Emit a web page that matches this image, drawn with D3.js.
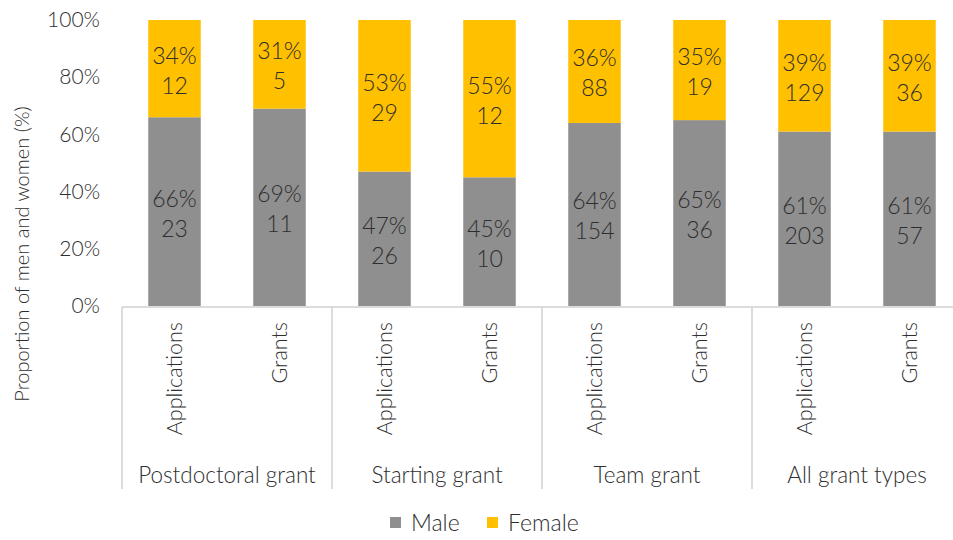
<!DOCTYPE html>
<html><head><meta charset="utf-8">
<script src="https://cdn.jsdelivr.net/npm/d3@7/dist/d3.min.js"></script>
<style>body{margin:0;background:#fff;} text{font-family:Lato,"Open Sans",sans-serif;font-weight:300;}</style>
</head><body><svg id="c" width="953" height="540"></svg>
<script>
const groups = ["Postdoctoral grant","Starting grant","Team grant","All grant types"];
const subCats = ["Applications","Grants"];
const malePct = [66,69,47,45,64,65,61,61];
const femalePct = [34,31,53,55,36,35,39,39];
const maleN = [23,11,26,10,154,36,203,57];
const femaleN = [12,5,29,12,88,19,129,36];
const yTicks = [0,20,40,60,80,100];
const seriesNames = ["Male","Female"];
const colors = {Male:"#8f8f8f", Female:"#ffc000"};

(function(){
const svg = d3.select("#c");
const pLeft = 122, pRight = 962, pTop = 20, pBottom = 306;
const bars = [];
groups.forEach((g,gi)=>subCats.forEach((s,si)=>{
  const i = gi*2+si;
  bars.push({key:g+"|"+s, group:g, sub:s, m:malePct[i], f:femalePct[i], mn:maleN[i], fn:femaleN[i]});
}));
const x = d3.scaleBand().domain(bars.map(d=>d.key)).range([pLeft,pRight]).paddingInner(0.5).paddingOuter(0.25);
const y = d3.scaleLinear().domain([0,100]).range([pBottom,pTop]);
const txt = "#2e2e2e";

const ya = svg.append("g").attr("transform",`translate(${pLeft},0)`)
  .call(d3.axisLeft(y).tickValues(yTicks).tickFormat(d=>d+"%").tickSize(0).tickPadding(22));
ya.select(".domain").remove();
ya.selectAll("text").attr("font-size",21).attr("fill",txt).style("font-family","Lato,sans-serif").style("font-weight",300);

const bg = svg.append("g");
bars.forEach(d=>{
  const total = d.m + d.f;
  bg.append("rect").attr("x",x(d.key)).attr("width",x.bandwidth())
    .attr("y",y(d.m)).attr("height",y(0)-y(d.m)).attr("fill",colors.Male);
  bg.append("rect").attr("x",x(d.key)).attr("width",x.bandwidth())
    .attr("y",y(total)).attr("height",y(d.m)-y(total)).attr("fill",colors.Female);
  const cx = x(d.key)+x.bandwidth()/2;
  const segs = [[0,d.m,d.m,d.mn],[d.m,total,d.f,d.fn]];
  segs.forEach(([a,b,p,n])=>{
    const cy = (y(a)+y(b))/2;
    const t = bg.append("text").attr("x",cx).attr("text-anchor","middle").attr("font-size",23).attr("fill",txt);
    t.append("tspan").attr("x",cx).attr("y",cy-5).text(p+"%");
    t.append("tspan").attr("x",cx).attr("y",cy+25).text(n);
  });
});

const ax = svg.append("g").attr("stroke","#d0d0d0").attr("stroke-width",1.5);
ax.append("line").attr("x1",pLeft).attr("x2",pRight).attr("y1",pBottom+1).attr("y2",pBottom+1);
const gw = (pRight-pLeft)/groups.length;
for(let k=0;k<=groups.length;k++){
  ax.append("line").attr("x1",pLeft+k*gw).attr("x2",pLeft+k*gw).attr("y1",pBottom+1).attr("y2",489);
}
bars.forEach(d=>{
  const cx = x(d.key)+x.bandwidth()/2;
  svg.append("text").attr("transform",`translate(${cx+7},322) rotate(-90)`)
    .attr("text-anchor","end").attr("font-size",21.5).attr("fill",txt).text(d.sub);
});
groups.forEach((g,gi)=>{
  svg.append("text").attr("x",pLeft+gw*gi+gw/2).attr("y",483).attr("text-anchor","middle")
    .attr("font-size",22.5).attr("fill",txt).text(g);
});

svg.append("text").attr("transform","translate(29,254) rotate(-90)").attr("text-anchor","middle")
  .attr("font-size",20).attr("fill",txt).text("Proportion of men and women (%)");

const lg = svg.append("g");
const lx = [390,487];
seriesNames.forEach((s,i)=>{
  lg.append("rect").attr("x",lx[i]).attr("y",517).attr("width",11).attr("height",11).attr("fill",colors[s]);
  lg.append("text").attr("x",lx[i]+21).attr("y",531).attr("font-size",23).attr("fill",txt).text(s);
});
})();
</script></body></html>
